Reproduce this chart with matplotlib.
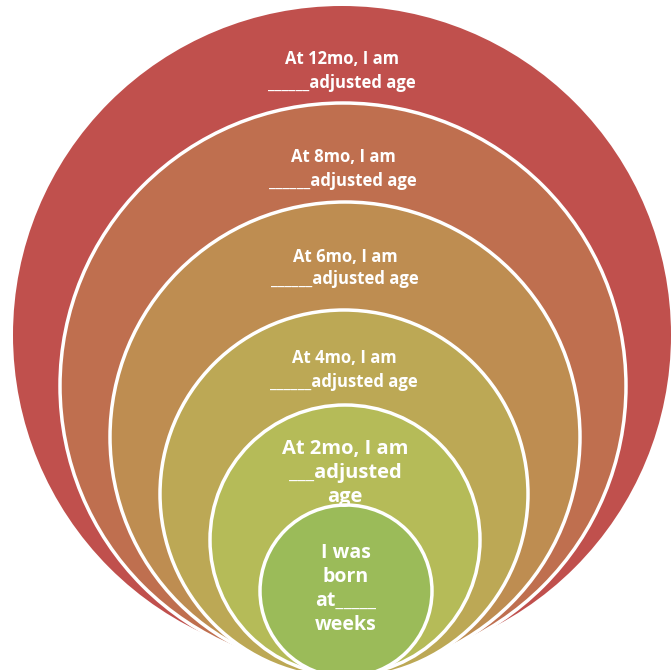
"""
Nested circles: adjusted age milestones.
"""

import matplotlib
matplotlib.use("Agg")
import matplotlib.pyplot as plt
from matplotlib.patches import Circle


# Labels from outer circle to inner circle
LABELS = [
    "At 12mo, I am\n______adjusted age",
    "At 8mo, I am\n______adjusted age",
    "At 6mo, I am\n______adjusted age",
    "At 4mo, I am\n______adjusted age",
    "At 2mo, I am\n___adjusted\nage",
    "I was\nborn\nat_____\nweeks",
]

COLORS = ["#C0504D", "#BF6F4F", "#BE8D51", "#BCA855", "#B5BB58", "#9BBB59"]

# layout in pixels (x, y from top-left), radius
CENTERS_X = [342, 343, 345, 344, 345, 346]
CENTERS_Y = [335, 386, 437, 494, 540, 591]
RADII = [329, 283, 235, 184, 135, 86]

# label placement (centre of text block) and size
LABEL_Y = [71, 169, 268, 370, 473, 589]
LABEL_SIZE = [12, 12, 12, 12, 14.5, 14]
LABEL_SPACING = [1.45, 1.4, 1.35, 1.4, 1.25, 1.25]


def main():
    fig = plt.figure(figsize=(6.71, 6.70), dpi=100)
    ax = fig.add_axes([0, 0, 1, 1])
    ax.set_xlim(0, 671)
    ax.set_ylim(670, 0)
    ax.set_aspect("equal")
    ax.axis("off")

    for i, color in enumerate(COLORS):
        circ = Circle(
            (CENTERS_X[i], CENTERS_Y[i]),
            RADII[i],
            facecolor=color,
            edgecolor="white" if i > 0 else color,
            linewidth=2.5 if i > 0 else 0,
            zorder=i + 1,
        )
        ax.add_patch(circ)

    for i, label in enumerate(LABELS):
        ax.text(
            CENTERS_X[i], LABEL_Y[i], label,
            ha="center", va="center",
            color="white", fontsize=LABEL_SIZE[i],
            fontweight="bold", family=["Open Sans", "DejaVu Sans"],
            linespacing=LABEL_SPACING[i],
            zorder=20,
        )

    fig.savefig("out.png", dpi=100)
    plt.close(fig)


if __name__ == "__main__":
    main()
